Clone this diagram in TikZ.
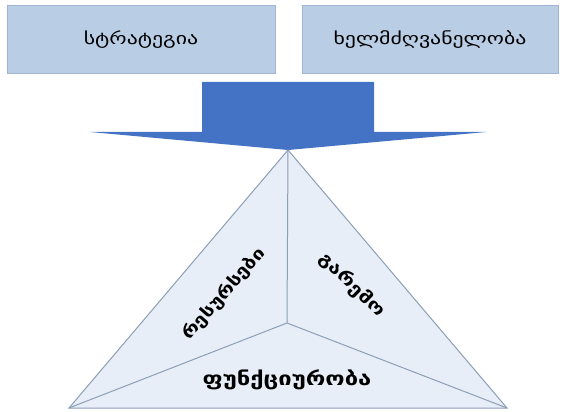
\documentclass[tikz,border=0pt]{standalone}
\usepackage{fontspec}
\setmainfont{DejaVu Sans}
\newfontfamily\geo[FakeStretch=1.25]{DejaVu Sans}
\newfontfamily\geowide[FakeStretch=1.32]{DejaVu Sans}
\begin{document}
\begin{tikzpicture}[x=1pt,y=-1pt,
  topbox/.style={draw=boxedge,fill=boxfill,line width=0.8pt,minimum height=68pt,inner sep=0pt,font=\geowide\fontsize{16.5}{18}\selectfont},
  face/.style={fill=facefill},
  edge/.style={draw=edgecol,line width=1pt},
  label/.style={font=\geo\bfseries\fontsize{16.5}{18}\selectfont,inner sep=0pt}]
\definecolor{boxfill}{HTML}{B9CDE5}
\definecolor{boxedge}{HTML}{9FB5D3}
\definecolor{arrowcol}{HTML}{4472C4}
\definecolor{facefill}{HTML}{E8EEF7}
\definecolor{edgecol}{HTML}{8D9EB8}
\useasboundingbox (0,0) rectangle (563,412);

% top boxes
\node[topbox,minimum width=268pt] (strat) at (141,39.5) {სტრატეგია};
\node[topbox,minimum width=256pt] (lead) at (430,39.5) {ხელმძღვანელობა};

% block arrow pointing down into the pyramid
\coordinate (apex) at (288,150);
\fill[arrowcol] (202,82) -- (374,82) -- (374,132) -- (486,132) -- (apex)
  -- (90,132) -- (202,132) -- cycle;

% pyramid seen from above
\coordinate (bl) at (69,408);
\coordinate (br) at (507,408);
\coordinate (ctr) at (287,323);
\fill[face] (apex) -- (bl) -- (br) -- cycle;
\draw[edge] (apex) -- (bl) -- (br) -- cycle;
\draw[edge] (apex) -- (ctr) (bl) -- (ctr) -- (br);

\node[label,rotate=49] (res) at (224,294) {რესურსები};
\node[label,rotate=-44,font=\geo\bfseries\fontsize{17}{18}\selectfont] (env) at (352,285) {გარემო};
\node[label,font=\geo\bfseries\fontsize{19}{20}\selectfont] (func) at (287,380) {ფუნქციურობა};
\end{tikzpicture}
\end{document}
